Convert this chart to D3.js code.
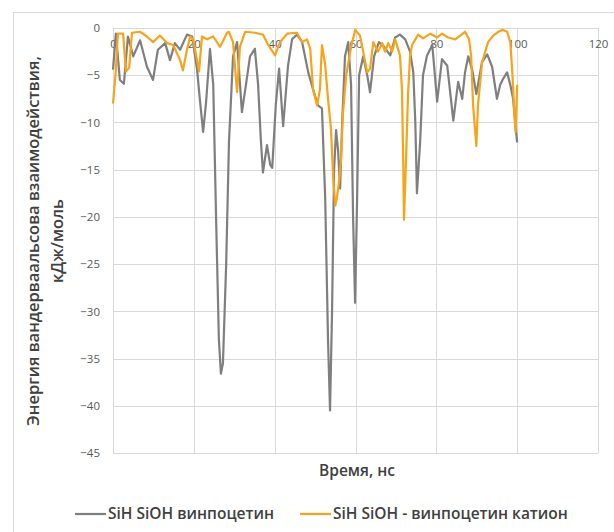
<!DOCTYPE html>
<html lang="ru">
<head>
  <meta charset="UTF-8">
  <title>Энергия вандерваальсова взаимодействия</title>
  <script src="https://d3js.org/d3.v7.min.js"></script>
  <style>
    body { margin: 0; background: #fff; font-family: 'Open Sans', 'Liberation Sans', sans-serif; }
  </style>
</head>
<body>
  <script>
    // time, ns and energy, kJ/mol
    const neutralTime = [0, 0.7, 1.7, 2.7, 3.7, 5.0, 6.7, 8.4, 9.9, 11.1, 12.9, 14.1, 15.3, 16.6, 18.3, 19.6,
      20.8, 21.5, 22.3, 23.0, 24.0, 24.8, 25.5, 26.2, 26.7, 27.2, 28.0, 28.7, 29.7, 30.7, 31.9, 32.9,
      33.9, 35.1, 35.9, 36.6, 37.1, 38.1, 38.9, 39.4, 40.3, 41.1, 42.1, 43.3, 44.3, 45.5, 46.8, 48.3,
      49.5, 50.7, 51.7, 52.5, 53.2, 53.7, 54.2, 54.7, 55.2, 55.7, 56.2, 56.7, 57.4, 58.2, 58.9, 59.4,
      59.9, 60.4, 60.9, 61.9, 62.9, 63.6, 64.6, 65.8, 67.1, 68.6, 69.8, 71.0, 72.3, 73.5, 74.3, 74.8,
      75.2, 76.0, 76.7, 77.7, 79.0, 80.2, 81.4, 82.7, 84.2, 85.4, 86.4, 87.1, 87.9, 88.9, 89.9, 91.3,
      92.6, 93.8, 95.0, 95.8, 96.5, 97.5, 98.3, 99.0, 99.5, 100];
    const neutralEnergy = [-4.4, -0.6, -5.5, -5.9, -0.9, -3.0, -1.3, -4.1, -5.5, -2.3, -1.6, -3.4, -1.6, -2.3, -0.7, -0.9,
      -4.4, -7.6, -11.0, -8.0, -2.2, -6, -20, -33, -36.6, -35.5, -25, -12, -3, -1.5, -8.9, -6,
      -3, -2.2, -6, -12, -15.3, -12.4, -14.5, -14.8, -8, -4.3, -10.4, -4, -1.2, -0.7, -1.5, -4.7,
      -6.5, -8.2, -8.5, -18, -33, -40.5, -30, -15, -10.8, -13, -17, -10, -3, -1.5, -6, -20,
      -29.1, -18, -5, -3.0, -5, -6.8, -3, -1.5, -2.0, -2.9, -1, -0.7, -1.2, -2.5, -4.7, -10,
      -17.5, -12, -5, -2.9, -1.8, -7.8, -3.3, -4, -9.8, -5.7, -7.5, -4.7, -3, -4.5, -7, -3.6,
      -2.8, -4.1, -7.5, -6, -5.4, -4.7, -6, -7.5, -10, -12.1];

    const cationTime = [0, 0.7, 1.2, 2.5, 3.2, 4.0, 4.7, 6.7, 8.4, 9.9, 11.6, 13.4, 14.9, 16.6, 17.3, 18.3,
      19.1, 19.8, 20.8, 21.3, 22.0, 23.3, 24.8, 26.5, 28.2, 28.7, 29.7, 30.7, 31.4, 32.7, 35.1, 37.1,
      38.4, 40.1, 41.3, 43.1, 45.5, 46.8, 48.0, 48.8, 49.5, 50.5, 51.2, 51.7, 52.5, 53.2, 53.9, 54.5,
      55.0, 55.4, 56.0, 56.4, 56.9, 57.7, 58.7, 59.2, 59.9, 61.1, 61.9, 62.9, 63.6, 64.4, 65.6, 66.6,
      67.3, 68.1, 69.1, 69.8, 71.0, 71.5, 71.8, 72.0, 72.5, 73.0, 73.5, 74.0, 75.5, 76.7, 78.5, 80.2,
      81.4, 82.9, 84.7, 85.9, 87.1, 88.1, 88.6, 89.1, 89.9, 90.3, 91.3, 92.1, 92.8, 94.1, 95.3, 96.5,
      97.5, 98.3, 98.8, 99.3, 99.6, 100];
    const cationEnergy = [-8, -4.5, -0.6, -0.6, -4.6, -4.2, -0.5, -0.4, -0.9, -1.5, -0.8, -1.6, -1.8, -3.4, -4.5, -2.3,
      -0.9, -1.2, -3.4, -4.6, -0.9, -1.2, -0.9, -2, -0.5, -0.4, -1.5, -6.8, -2, -0.4, -0.5, -0.7,
      -1.8, -2.9, -1.5, -0.6, -0.5, -1.5, -1.2, -2.2, -6.5, -8.2, -6.5, -1.8, -3.9, -7.5, -10.5, -16,
      -18.8, -18, -16, -14, -9, -5, -2.5, -1.5, -0.2, -0.8, -2.5, -4.7, -4.3, -1.5, -2.5, -1.6,
      -2.5, -1.6, -2.5, -1.2, -2.9, -6.5, -14, -20.3, -14, -7, -2.9, -1.8, -0.7, -1.1, -0.6, -1.0,
      -0.6, -1.0, -1.2, -0.8, -0.4, -1.2, -2.9, -8.2, -12.5, -8.2, -3.7, -2.5, -1.5, -0.8, -0.4, -0.2,
      -0.4, -1.5, -4.7, -9, -11, -6];

    const seriesNames = ["SiH SiOH винпоцетин", "SiH SiOH - винпоцетин катион"];
    const seriesColors = ["#7f7f7f", "#f7a418"];
    const xTicks = [0, 20, 40, 60, 80, 100, 120];
    const yTicks = [0, -5, -10, -15, -20, -25, -30, -35, -40, -45];

    const width = 614, height = 532;
    const plot = { left: 113, right: 598, top: 28, bottom: 453 };

    const x = d3.scaleLinear().domain([0, 120]).range([plot.left, plot.right]);
    const y = d3.scaleLinear().domain([-45, 0]).range([plot.bottom, plot.top]);

    const svg = d3.select("body").append("svg")
        .attr("width", width)
        .attr("height", height)
        .style("display", "block");

    // chart frame
    svg.append("rect")
        .attr("x", 13.5).attr("y", 12.5)
        .attr("width", width).attr("height", height)
        .attr("fill", "#fff")
        .attr("stroke", "#d9d9d9");

    // gridlines
    svg.append("g")
        .attr("stroke", "#d9d9d9")
        .attr("stroke-width", 1)
      .selectAll("line.v")
      .data(xTicks)
      .join("line")
        .attr("x1", d => Math.round(x(d)) + 0.5).attr("x2", d => Math.round(x(d)) + 0.5)
        .attr("y1", plot.top).attr("y2", plot.bottom);

    svg.append("g")
        .attr("stroke", "#d9d9d9")
        .attr("stroke-width", 1)
      .selectAll("line.h")
      .data(yTicks)
      .join("line")
        .attr("x1", plot.left).attr("x2", plot.right)
        .attr("y1", d => Math.round(y(d)) + 0.5).attr("y2", d => Math.round(y(d)) + 0.5);

    // y axis labels
    const yAxis = svg.append("g")
        .attr("transform", `translate(${plot.left},0)`)
        .call(d3.axisLeft(y).tickValues(yTicks).tickSize(0).tickPadding(13));
    yAxis.select(".domain").remove();
    yAxis.selectAll("text")
        .attr("fill", "#595959")
        .style("font-size", "11.5px")
        .style("font-family", "'Open Sans', sans-serif");

    // x axis labels sit along y = 0
    const xAxis = svg.append("g")
        .attr("transform", `translate(0,${y(0)})`)
        .call(d3.axisBottom(x).tickValues(xTicks).tickSize(0).tickPadding(12));
    xAxis.select(".domain").remove();
    xAxis.selectAll("text")
        .attr("fill", "#595959")
        .style("font-size", "11.5px")
        .style("font-family", "'Open Sans', sans-serif");

    const line = d3.line()
        .x(d => x(d[0]))
        .y(d => y(d[1]));

    const series = [
      d3.zip(neutralTime, neutralEnergy),
      d3.zip(cationTime, cationEnergy)
    ];

    svg.append("g")
        .attr("fill", "none")
        .attr("stroke-width", 2.2)
        .attr("stroke-linejoin", "round")
      .selectAll("path")
      .data(series)
      .join("path")
        .attr("stroke", (d, i) => seriesColors[i])
        .attr("d", line);

    // axis titles
    svg.append("text")
        .attr("x", 357)
        .attr("y", 476)
        .attr("text-anchor", "middle")
        .attr("fill", "#404040")
        .style("font-size", "15.5px")
        .style("font-weight", 600)
        .text("Время, нс");

    const yTitle = svg.append("text")
        .attr("transform", "translate(39,241) rotate(-90)")
        .attr("text-anchor", "middle")
        .attr("fill", "#404040")
        .style("font-size", "16.5px")
        .style("font-weight", 600);
    yTitle.append("tspan").attr("x", 0).attr("y", 0).text("Энергия вандерваальсова взаимодействия,");
    yTitle.append("tspan").attr("x", 0).attr("y", 24).text("кДж/моль");

    // legend
    const legendX = [75, 300];
    const legend = svg.append("g")
      .selectAll("g")
      .data(seriesNames)
      .join("g")
        .attr("transform", (d, i) => `translate(${legendX[i]},514)`);
    legend.append("line")
        .attr("x1", 0).attr("x2", 31)
        .attr("stroke", (d, i) => seriesColors[i])
        .attr("stroke-width", 2.2);
    legend.append("text")
        .attr("x", 33)
        .attr("dy", "0.35em")
        .attr("fill", "#404040")
        .style("font-size", "15.5px")
        .style("font-weight", 600)
        .text(d => d);
  </script>
</body>
</html>
